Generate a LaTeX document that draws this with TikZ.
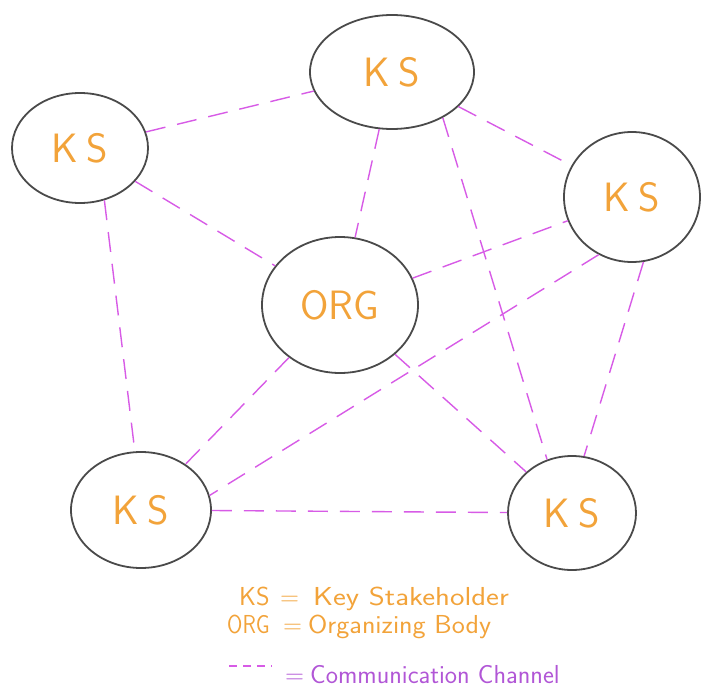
\documentclass[tikz,border=0pt]{standalone}
\usetikzlibrary{shapes.geometric}

\definecolor{penorange}{HTML}{F2A33A}
\definecolor{penmagenta}{HTML}{D75BE6}
\definecolor{penpurple}{HTML}{B156D6}
\definecolor{pengray}{HTML}{4A4A4A}

\newcommand{\ks}{K\kern8pt S}

\begin{document}
\begin{tikzpicture}[x=1pt,y=-1pt,font=\sffamily,
                    channel/.style={penmagenta,line width=1.4pt,dash pattern=on 20pt off 12pt},
                    every edge/.style={draw,channel}]
  \tikzset{party/.style={ellipse,draw=pengray,line width=1.8pt,text=penorange,
                         inner sep=0pt,font=\sffamily\fontsize{41}{41}\selectfont}}
  \useasboundingbox (0,0) rectangle (702,693);

  \node[party,minimum width=164pt,minimum height=114pt] (top)   at (392,72)  {\ks};
  \node[party,minimum width=136pt,minimum height=110pt] (left)  at (80,148)  {\ks};
  \node[party,minimum width=136pt,minimum height=130pt] (right) at (632,197) {\ks};
  \node[party,minimum width=156pt,minimum height=136pt] (org)   at (340,305) {ORG};
  \node[party,minimum width=140pt,minimum height=116pt] (bl)    at (141,510) {\ks};
  \node[party,minimum width=128pt,minimum height=114pt] (br)    at (572,513) {\ks};

  \path (left)     edge (top);
  \path (left)     edge (org);
  \path (left.-65) edge (bl.96);
  \path (top)      edge (org);
  \path (top)      edge (right);
  \path (top.-42)  edge (br.115);
  \path (org)      edge (right);
  \path (org)      edge (bl);
  \path (org)      edge (br);
  \path (right.-120) edge (bl.12);
  \path (right.-80)  edge (br.78);
  \path (bl)       edge (br);

  % legend
  \tikzset{key/.style={anchor=base west,inner sep=0pt,text=penorange,
                       font=\sffamily\fontsize{26}{26}\selectfont}}
  \node[key] (ksabbr)  at (239,605) {KS};
  \node[key] (kseq)    at (280,605) {=};
  \node[key] (ksdef)   at (313,605) {\scalebox{1.18}[1]{Key Stakeholder}};
  \node[key] (orgabbr) at (227,633) {\scalebox{0.85}[1]{ORG}};
  \node[key] (orgeq)   at (283,633) {=};
  \node[key] (orgdef)  at (308,633) {\scalebox{1.07}[1]{Organizing Body}};
  \coordinate (dashA) at (229,666);
  \coordinate (dashB) at (272,666);
  \draw[penmagenta,line width=1.4pt,dash pattern=on 8pt off 6pt] (dashA) -- (dashB);
  \node[key,text=penpurple] (cheq)  at (285,683) {=};
  \node[key,text=penpurple] (chdef) at (310,683) {Communication Channel};
\end{tikzpicture}
\end{document}
